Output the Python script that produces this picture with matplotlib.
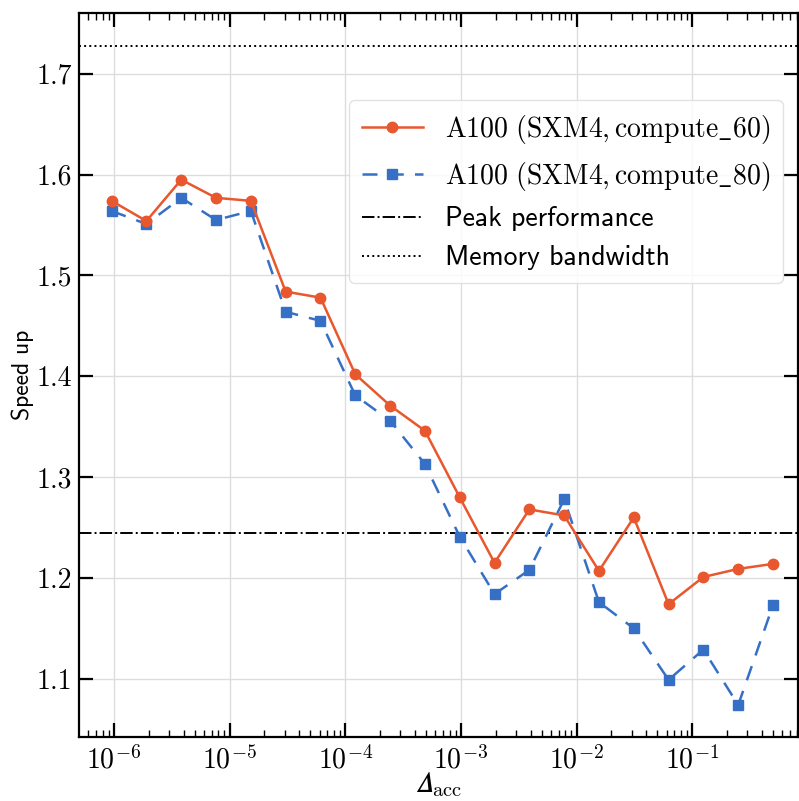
import matplotlib
matplotlib.use("Agg")
import matplotlib.pyplot as plt
import numpy as np

# accuracy thresholds, 2^-20 ... 2^-1
exponents = list(range(-20, 0))
delta_acc = [2.0 ** e for e in exponents]

speedup_60 = [1.574, 1.554, 1.595, 1.577, 1.574, 1.484, 1.478, 1.402, 1.371, 1.346,
              1.280, 1.215, 1.268, 1.262, 1.207, 1.260, 1.174, 1.201, 1.209, 1.214]
speedup_80 = [1.564, 1.551, 1.577, 1.555, 1.564, 1.464, 1.455, 1.381, 1.356, 1.313,
              1.241, 1.184, 1.208, 1.278, 1.176, 1.150, 1.099, 1.129, 1.074, 1.173]

peak_performance = 1.245
memory_bandwidth = 1.728

label_60 = r"$\mathrm{A100\ (SXM4, compute\_60)}$"
label_80 = r"$\mathrm{A100\ (SXM4, compute\_80)}$"

plt.rcParams["mathtext.fontset"] = "cm"
plt.rcParams["font.family"] = "cmr10"
plt.rcParams["axes.formatter.use_mathtext"] = True

W, H = 799, 801
fig = plt.figure(figsize=(W / 100, H / 100), dpi=100)
left, right, top, bottom = 79.3, 798.0, 13.3, 737.3
ax = fig.add_axes([left / W, 1 - bottom / H, (right - left) / W, (bottom - top) / H])

ax.plot(delta_acc, speedup_60, "-o", color="#e8572e", lw=1.8, ms=7.5,
        label=label_60, zorder=4)
ax.plot(delta_acc, speedup_80, "--s", color="#3670c6", lw=1.8, ms=6.5,
        dashes=(6, 4.5), label=label_80, zorder=3)
ax.axhline(peak_performance, color="black", lw=1.4, ls="-.", label="Peak performance")
ax.axhline(memory_bandwidth, color="black", lw=1.4, ls=":", label="Memory bandwidth")

ax.set_xscale("log")
ax.set_xlim(10 ** -6.30, 10 ** -0.085)
ax.set_ylim(1.042, 1.76)
ax.set_yticks([1.1, 1.2, 1.3, 1.4, 1.5, 1.6, 1.7])
ax.set_yticklabels(["1.1", "1.2", "1.3", "1.4", "1.5", "1.6", "1.7"])
ax.set_xticks([1e-6, 1e-5, 1e-4, 1e-3, 1e-2, 1e-1])

ax.grid(True, which="major", color="#dddddd", lw=1.0, zorder=0)
ax.tick_params(which="both", direction="in", top=True, right=True, labelsize=20)
ax.tick_params(which="major", length=10, width=1.6)
ax.tick_params(which="minor", length=5, width=1.0)
ax.tick_params(axis="x", pad=6)
ax.tick_params(axis="y", pad=5)
for s in ax.spines.values():
    s.set_linewidth(1.6)

ax.set_xlabel("$\U0001D6E5_{\\mathrm{acc}}$", fontsize=21, labelpad=-3)
ax.set_ylabel("Speed up", fontsize=17, family="cmss10", labelpad=2)

leg = ax.legend(loc="upper right", bbox_to_anchor=(0.979, 0.88), borderaxespad=0,
                fontsize=20, handlelength=2.2, labelspacing=0.5, framealpha=0.85,
                edgecolor="#dddddd", borderpad=0.45)
for t in leg.get_texts()[2:]:
    t.set_family("cmss10")

fig.savefig("out.png", dpi=100)
